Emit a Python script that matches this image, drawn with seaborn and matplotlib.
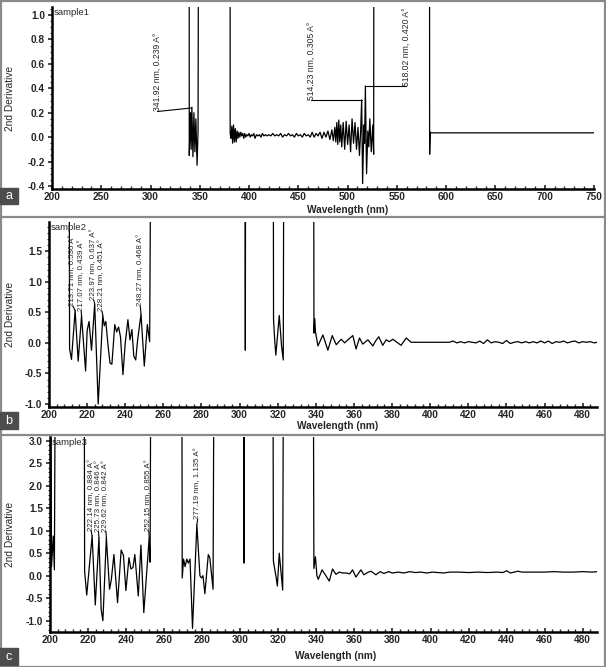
import numpy as np
import pandas as pd
import matplotlib
matplotlib.use("Agg")
import matplotlib.pyplot as plt
import seaborn as sns
from matplotlib.patches import Rectangle
from matplotlib.lines import Line2D
from matplotlib.ticker import MultipleLocator, FormatStrFormatter

TOP = 5.0  # trace leaves the plot (off scale)

# ---------------- sample1 (panel a) ----------------
a_seg1_nm = [339.0, 339.3, 340.5, 341.2, 341.92, 343.0, 344.0, 345.0, 346.0, 347.2, 348.2, 349.5]
a_seg1_val = [TOP, -0.15, 0.20, -0.10, 0.245, -0.16, 0.20, -0.12, 0.15, -0.23, 0.05, TOP]
a_seg2_nm = [380.6, 380.8, 381.6, 382.5, 383.3, 384.2, 385.1, 386.0, 386.9, 387.8, 388.7, 389.6,
             390.6, 391.6, 392.6, 393.6, 394.6, 395.6, 396.6, 397.6, 398.8, 400.0, 401.2, 402.4,
             403.6, 404.8, 406.0, 407.5, 409.0, 410.5, 412.0, 413.5, 415.0, 416.5, 418.0, 420.0,
             422.0, 424.0, 426.0, 428.0, 430.0, 432.0, 434.0, 436.0, 438.0, 440.0, 442.0, 444.0,
             446.0, 448.0, 450.0, 452.0, 454.0, 456.0, 458.0, 460.0, 462.0, 464.0, 466.0, 468.0,
             470.0, 472.0, 474.0, 476.0, 478.0, 480.0, 482.0, 484.0, 485.5, 487.0, 488.0, 489.0,
             490.0, 491.0, 492.0, 493.0, 494.0, 495.5, 497.0, 498.5, 500.0, 501.5, 503.0, 504.5,
             506.0, 507.5, 509.0, 510.5, 512.0, 513.2, 514.23, 515.2, 516.5, 517.2, 518.02, 519.2,
             520.5, 521.5, 522.5, 524.0, 525.5, 526.4, 527.0]
a_seg2_val = [TOP, 0.03, -0.01, 0.09, -0.05, 0.10, -0.04, 0.07, -0.04, 0.05, -0.01, 0.04,
              0.00, 0.04, 0.01, 0.03, -0.01, 0.03, 0.00, 0.02, 0.01, 0.03, 0.00, 0.02,
              0.01, 0.03, -0.01, 0.02, 0.01, 0.02, 0.00, 0.03, 0.01, 0.02, 0.01, 0.02,
              0.01, 0.03, 0.01, 0.02, 0.01, 0.03, 0.00, 0.02, 0.01, 0.03, 0.01, 0.02,
              0.00, 0.03, 0.01, 0.02, 0.00, 0.03, 0.01, 0.02, 0.00, 0.04, 0.00, 0.03,
              0.01, 0.04, -0.01, 0.04, 0.00, 0.05, -0.02, 0.06, -0.03, 0.08, -0.04, 0.12,
              -0.06, 0.14, -0.04, 0.10, -0.08, 0.12, -0.10, 0.13, -0.06, 0.10, -0.12, 0.15,
              -0.05, 0.12, -0.10, 0.08, -0.15, 0.05, 0.305, -0.38, 0.10, -0.05, 0.42, -0.30,
              0.05, -0.08, 0.15, -0.12, 0.10, -0.14, TOP]
a_seg3_nm = [583.0, 583.2, 583.8, 585.0, 750.0]
a_seg3_val = [TOP, -0.14, 0.04, 0.035, 0.035]

a_peak_nm = [341.92, 514.23, 518.02]
a_peak_val = [0.239, 0.305, 0.420]
a_labels = ["341.92 nm, 0.239 A°", "514.23 nm, 0.305 A°", "518.02 nm, 0.420 A°"]
a_label_x = [307.0, 463.0, 559.5]
a_label_y = [0.21, 0.305, 0.42]

# ---------------- sample2 (panel b) ----------------
b_seg1_nm = [210.5, 210.8, 211.8, 213.71, 215.3, 217.07, 219.2, 220.0, 221.0, 222.3, 223.97,
             225.8, 228.21, 229.0, 229.8, 231.0, 232.0, 233.0, 234.5, 235.5, 236.5, 237.5,
             238.8, 240.0, 241.4, 242.5, 243.5, 244.5, 245.5, 246.5, 248.27, 250.0, 251.6,
             252.8, 253.7]
b_seg1_val = [TOP, -0.10, -0.27, 0.53, -0.30, 0.44, -0.46, 0.20, 0.35, -0.12, 0.637,
              -1.00, 0.451, 0.28, 0.35, -0.05, -0.33, -0.35, 0.30, 0.18, 0.26, 0.10,
              -0.52, 0.00, 0.38, 0.05, 0.22, -0.22, -0.28, 0.05, 0.468, -0.38, 0.30,
              0.02, TOP]
b_seg2_nm = [302.8, 303.0, 303.2]
b_seg2_val = [TOP, -0.12, TOP]
b_seg3_nm = [317.6, 317.8, 318.4, 319.0, 320.8, 322.0, 322.9, 323.3]
b_seg3_val = [TOP, 0.38, 0.05, -0.20, 0.45, -0.05, -0.28, TOP]
b_seg4_nm = [338.8, 339.0, 339.4, 339.8, 341.1, 343.7, 346.3, 348.6, 350.7, 353.3, 355.1,
             356.8, 359.4, 361.1, 362.9, 364.6, 367.3, 369.9, 371.3, 373.0, 375.1, 376.9,
             378.6, 380.4, 382.1, 384.7, 387.4, 390.0, 410.0, 412.0, 414.0, 416.0, 418.0,
             420.0, 422.0, 424.0, 426.0, 428.0, 430.0, 432.0, 434.0, 436.0, 438.0, 440.0,
             442.0, 444.0, 446.0, 448.0, 450.0, 452.0, 454.0, 456.0, 458.0, 460.0, 462.0,
             464.0, 466.0, 468.0, 470.0, 472.0, 474.0, 476.0, 478.0, 480.0, 482.0, 484.0,
             486.0, 487.5]
b_seg4_val = [TOP, 0.16, 0.40, 0.18, -0.05, 0.13, -0.12, 0.12, -0.03, 0.06, 0.00,
              0.05, 0.12, -0.10, 0.08, -0.02, 0.05, -0.05, 0.03, 0.10, -0.04, 0.05,
              0.02, 0.06, 0.02, -0.04, 0.08, 0.01, 0.01, 0.03, 0.00, 0.02, 0.00,
              0.02, 0.01, 0.00, 0.03, -0.01, 0.05, 0.00, 0.02, 0.01, -0.01, 0.04,
              -0.01, 0.01, 0.02, 0.00, 0.02, 0.00, 0.02, 0.00, 0.03, 0.00, 0.03,
              -0.01, 0.02, 0.01, 0.03, 0.00, 0.02, 0.03, 0.00, 0.02, 0.01, 0.02,
              0.00, 0.01]

b_peak_nm = [213.71, 217.07, 223.97, 228.21, 248.27]
b_peak_val = [0.530, 0.439, 0.637, 0.451, 0.468]
b_labels = ["213.71 nm, 0.530 A°", "217.07 nm, 0.439 A°", "223.97 nm, 0.637 A°",
            "228.21 nm, 0.451 A°", "248.27 nm, 0.468 A°"]
b_label_x = [212.6, 216.9, 223.5, 227.8, 247.9]
b_label_y = [0.60, 0.52, 0.70, 0.52, 0.60]

# ---------------- sample3 (panel c) ----------------
c_seg1_nm = [200.3, 200.8, 201.7, 202.3, 202.8]
c_seg1_val = [TOP, 0.20, 0.88, 0.13, TOP]
c_seg2_nm = [218.0, 218.2, 219.3, 222.14, 223.8, 225.73, 226.9, 227.8, 229.62, 231.3, 232.2,
             233.6, 235.5, 237.4, 238.6, 239.9, 241.5, 242.5, 243.6, 244.6, 246.4, 247.8,
             249.3, 252.15, 252.6, 253.0]
c_seg2_val = [TOP, 0.10, -0.43, 0.884, -0.65, 0.846, -0.75, -1.00, 0.842, -0.30, -0.10,
              0.47, -0.60, 0.57, 0.45, -0.33, 0.40, 0.15, 0.18, 0.47, -0.45, 0.68,
              -0.82, 0.855, 0.30, TOP]
c_seg3_nm = [269.3, 269.5, 270.2, 271.0, 271.9, 272.7, 273.6, 274.9, 277.19, 278.8, 279.6,
             280.4, 281.4, 283.2, 284.0, 285.7, 286.2]
c_seg3_val = [TOP, -0.05, 0.37, 0.20, 0.37, 0.28, 0.37, -1.17, 1.135, 0.00, -0.05,
              0.00, -0.40, 0.47, 0.40, -0.30, TOP]
c_seg4_nm = [301.8, 302.0, 302.2]
c_seg4_val = [TOP, 0.28, TOP]
c_seg5_nm = [317.2, 317.4, 318.9, 319.5, 320.5, 322.3, 322.7]
c_seg5_val = [TOP, 0.33, -0.05, -0.23, 0.50, -0.32, TOP]
c_seg6_nm = [338.4, 338.7, 339.5, 340.3, 341.0, 343.0, 345.0, 346.8, 348.5, 350.3, 352.0,
             353.8, 356.0, 357.5, 359.0, 360.8, 363.4, 365.0, 366.8, 368.7, 371.3, 373.5,
             375.5, 378.0, 380.0, 383.0, 386.0, 389.0, 392.0, 395.0, 398.0, 401.0, 404.0,
             407.0, 410.0, 415.0, 420.0, 425.0, 430.0, 435.0, 438.0, 440.0, 442.0, 444.0,
             446.0, 448.0, 455.0, 460.0, 465.0, 470.0, 475.0, 480.0, 485.0, 487.5]
c_seg6_val = [TOP, 0.16, 0.42, 0.00, -0.08, 0.13, 0.00, -0.12, 0.15, 0.03, 0.08,
              0.06, 0.06, 0.04, 0.13, -0.03, 0.13, 0.02, 0.07, 0.10, 0.02, 0.09,
              0.05, 0.09, 0.06, 0.08, 0.06, 0.09, 0.07, 0.08, 0.06, 0.08, 0.07,
              0.06, 0.08, 0.08, 0.07, 0.08, 0.07, 0.08, 0.07, 0.11, 0.06, 0.08,
              0.10, 0.08, 0.08, 0.08, 0.09, 0.08, 0.08, 0.09, 0.08, 0.09]

c_peak_nm = [222.14, 225.73, 229.62, 252.15, 277.19]
c_peak_val = [0.884, 0.846, 0.842, 0.855, 1.135]
c_labels = ["222.14 nm, 0.884 A°", "225.73 nm, 0.846 A°", "229.62 nm, 0.842 A°",
            "252.15 nm, 0.855 A°", "277.19 nm, 1.135 A°"]
c_label_x = [221.6, 225.5, 229.4, 251.9, 277.6]
c_label_y = [1.00, 0.98, 0.98, 1.00, 1.25]

x_ticks_a = [200, 250, 300, 350, 400, 450, 500, 550, 600, 650, 700, 750]
x_ticks_bc = [200, 220, 240, 260, 280, 300, 320, 340, 360, 380, 400, 420, 440, 460, 480]


def frame(segments):
    parts = []
    for i, (x, y) in enumerate(segments):
        parts.append(pd.DataFrame({"nm": x, "val": y, "seg": i}))
    return pd.concat(parts, ignore_index=True)


df_a = frame([(a_seg1_nm, a_seg1_val), (a_seg2_nm, a_seg2_val), (a_seg3_nm, a_seg3_val)])
df_b = frame([(b_seg1_nm, b_seg1_val), (b_seg2_nm, b_seg2_val), (b_seg3_nm, b_seg3_val),
              (b_seg4_nm, b_seg4_val)])
df_c = frame([(c_seg1_nm, c_seg1_val), (c_seg2_nm, c_seg2_val), (c_seg3_nm, c_seg3_val),
              (c_seg4_nm, c_seg4_val), (c_seg5_nm, c_seg5_val), (c_seg6_nm, c_seg6_val)])

sns.set_style("ticks")
plt.rcParams["font.family"] = ["Liberation Sans", "DejaVu Sans"]

W, H = 606, 667
fig = plt.figure(figsize=(W / 100, H / 100), dpi=100)
fig.patch.set_facecolor("white")


def rect(l, t, r, b):
    return [l / W, 1 - b / H, (r - l) / W, (b - t) / H]


axa = fig.add_axes(rect(52, 7, 594, 189))
axb = fig.add_axes(rect(49, 222, 597, 407))
axc = fig.add_axes(rect(50, 437, 597, 632))

panels = [
    (axa, df_a, (200, 750), (-0.425, 1.066), x_ticks_a, 10, 0.2, 0.05, "sample1",
     a_peak_nm, a_peak_val, a_labels, a_label_x, a_label_y, (52, 594), 348, 6.2, -0.09),
    (axb, df_b, (200, 487.5), (-1.05, 1.98), x_ticks_bc, 4, 0.5, 0.1, "sample2",
     b_peak_nm, b_peak_val, b_labels, b_label_x, b_label_y, (49, 597), 338, 5.7, -0.078),
    (axc, df_c, (200, 487.5), (-1.25, 3.08), x_ticks_bc, 4, 0.5, 0.1, "sample3",
     c_peak_nm, c_peak_val, c_labels, c_label_x, c_label_y, (50, 597), 336, 5.7, -0.095),
]

for (ax, df, xlim, ylim, xt, xminor, ymaj, yminor, name, pk_x, pk_y, labs, lx, ly,
     (lpx, rpx), xlab_px, afs, xlab_y) in panels:
    sns.lineplot(data=df, x="nm", y="val", units="seg", estimator=None, sort=False,
                 color="black", linewidth=0.9, ax=ax)
    ax.set_xlim(*xlim)
    ax.set_ylim(*ylim)
    sns.despine(ax=ax)
    for s in ("left", "bottom"):
        ax.spines[s].set_linewidth(1.8)
        ax.spines[s].set_color("black")
    ax.set_xticks(xt)
    ax.xaxis.set_minor_locator(MultipleLocator(xminor))
    ax.yaxis.set_major_locator(MultipleLocator(ymaj))
    ax.yaxis.set_minor_locator(MultipleLocator(yminor))
    ax.yaxis.set_major_formatter(FormatStrFormatter("%.1f"))
    ax.tick_params(axis="x", which="major", direction="in", length=3, width=1.2, pad=2,
                   labelsize=7.3)
    ax.tick_params(axis="x", which="minor", direction="in", length=2, width=1)
    ax.tick_params(axis="y", which="major", direction="out", length=3, width=1.2, pad=2,
                   labelsize=7.3)
    ax.tick_params(axis="y", which="minor", direction="out", length=1.5, width=0.8)
    for t in ax.get_xticklabels() + ax.get_yticklabels():
        t.set_fontweight("bold")
    ax.set_xlabel("Wavelength (nm)", fontsize=7.3, fontweight="bold")
    ax.set_ylabel("2nd Derivative", fontsize=7.3)
    width = rpx - lpx
    ax.xaxis.set_label_coords((xlab_px - lpx) / width, xlab_y)
    ax.yaxis.set_label_coords((15 - lpx) / width, 0.5)
    ax.text(0.004, 0.995, name, transform=ax.transAxes, ha="left", va="top", fontsize=6.8)
    for px_, pv_, s, tx, ty in zip(pk_x, pk_y, labs, lx, ly):
        ax.add_line(Line2D([px_, tx], [pv_, ty], color="black", linewidth=0.8))
        ax.text(tx, ty, s, rotation=90, ha="center", va="bottom", fontsize=afs)

# panel separators / border
border_col = "#8a8a8a"
fig.add_artist(Rectangle((0.5 / W, 0.5 / H), 1 - 1.5 / W, 1 - 1.5 / H, transform=fig.transFigure,
                         fill=False, edgecolor=border_col, linewidth=1.6))
for ypx in (217, 435):
    fig.add_artist(Line2D([0, 1], [1 - ypx / H, 1 - ypx / H], transform=fig.transFigure,
                          color=border_col, linewidth=1.6))

# panel letters
for letter, (top_px, bot_px) in zip("abc", [(188, 204), (412, 429), (648, 665)]):
    fig.add_artist(Rectangle((0, 1 - bot_px / H), 18 / W, (bot_px - top_px) / H,
                             transform=fig.transFigure, color="#4d4d4d", zorder=5))
    fig.text(9 / W, 1 - (top_px + bot_px) / 2 / H, letter, color="white", fontsize=9,
             ha="center", va="center", zorder=6)

fig.savefig("out.png", dpi=100, facecolor="white")
